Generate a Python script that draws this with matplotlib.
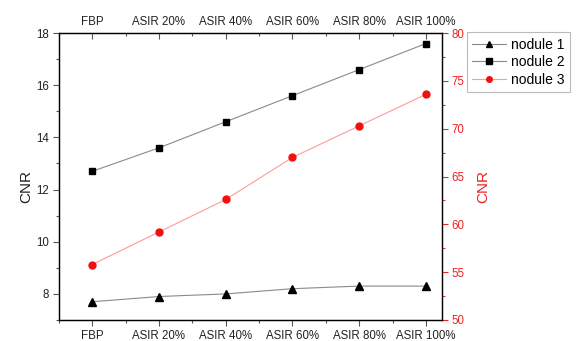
import matplotlib
matplotlib.use("Agg")
import matplotlib.pyplot as plt
from matplotlib.ticker import MultipleLocator, FixedLocator

plt.rcParams['font.family'] = ['Liberation Sans', 'DejaVu Sans']

categories = ["FBP", "ASIR 20%", "ASIR 40%", "ASIR 60%", "ASIR 80%", "ASIR 100%"]
nodule1 = [7.7, 7.9, 8.0, 8.2, 8.3, 8.3]
nodule2 = [12.7, 13.6, 14.6, 15.6, 16.6, 17.6]
nodule3 = [55.8, 59.2, 62.6, 67.0, 70.3, 73.6]

fig = plt.figure(figsize=(5.77, 3.41), dpi=100)
ax = fig.add_axes([0.102, 0.0616, 0.664, 0.8414])
x = list(range(len(categories)))

l1, = ax.plot(x, nodule1, color='#8a8a8a', lw=0.8, marker='^', ms=6,
              mfc='black', mec='black', label='nodule 1')
l2, = ax.plot(x, nodule2, color='#8a8a8a', lw=0.8, marker='s', ms=4.8,
              mfc='black', mec='black', label='nodule 2')
ax.set_xlim(-0.5, 5.24)
ax.set_ylim(7, 18)
ax.yaxis.set_major_locator(MultipleLocator(2))
ax.yaxis.set_minor_locator(MultipleLocator(1))
ax.set_xticks(x)
ax.set_xticklabels(categories)
ax.xaxis.set_minor_locator(FixedLocator([i + 0.5 for i in range(-1, 5)]))
ax.tick_params(axis='both', which='major', labelsize=8.3, length=4, width=0.8,
               colors='#555555', labelcolor='#222222', pad=3)
ax.tick_params(axis='both', which='minor', length=2.5, width=0.8, colors='#555555')
ax.set_ylabel('CNR', fontsize=11, color='#222222', labelpad=6)
ax.yaxis.set_label_coords(-0.068, 0.465)
for s in ['left', 'bottom', 'top']:
    ax.spines[s].set_color('#555555')
    ax.spines[s].set_linewidth(1.0)

axr = ax.twinx()
l3, = axr.plot(x, nodule3, color='#ff9a9a', lw=0.8, marker='o', ms=5,
               mfc='#ee1111', mec='#ee1111', label='nodule 3')
axr.set_ylim(50, 80)
axr.yaxis.set_major_locator(MultipleLocator(5))
axr.yaxis.set_minor_locator(MultipleLocator(2.5))
axr.tick_params(axis='y', which='major', labelsize=8.3, length=4, width=0.8, colors='#ee2222', pad=3)
axr.tick_params(axis='y', which='minor', length=2.5, width=0.8, colors='#ee2222')
axr.spines['right'].set_color('#ee2222')
axr.spines['right'].set_linewidth(1.0)
axr.set_ylabel('CNR', fontsize=11, color='#ee2222')
axr.yaxis.set_label_coords(1.09, 0.465)

axt = ax.twiny()
axt.set_xlim(ax.get_xlim())
axt.set_xticks(x)
axt.set_xticklabels(categories)
axt.xaxis.set_minor_locator(FixedLocator([i + 0.5 for i in range(-1, 5)]))
axt.tick_params(axis='x', which='major', direction='in', labelsize=8.3, length=4, width=0.8,
                colors='#555555', labelcolor='#222222', pad=4)
axt.tick_params(axis='x', which='minor', direction='in', length=2.5, width=0.8, colors='#555555')

leg = fig.legend(handles=[l1, l2, l3], loc='upper left', bbox_to_anchor=(0.809, 0.906),
                 fontsize=10, frameon=True, fancybox=False, edgecolor='#aaaaaa',
                 handlelength=2.4, handletextpad=0.35, borderpad=0.4, labelspacing=0.25,
                 borderaxespad=0, markerscale=0.8)
leg.get_frame().set_linewidth(0.8)

fig.savefig('out.png', dpi=100)
